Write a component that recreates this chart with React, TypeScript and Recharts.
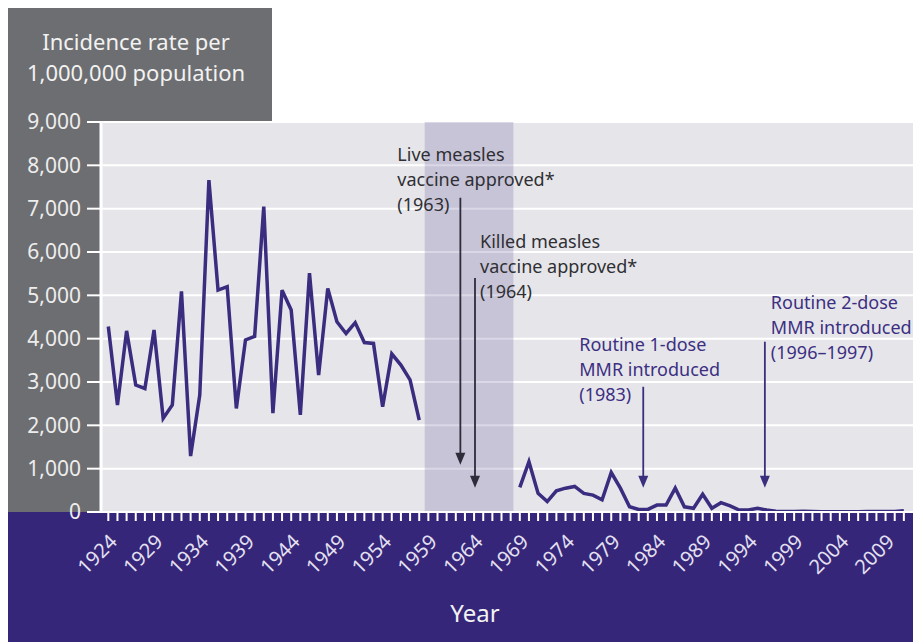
import React from 'react';
import { LineChart, Line, XAxis, YAxis, CartesianGrid, ReferenceArea, ReferenceLine } from 'recharts';

// measles incidence per 1,000,000
const firstStart = 1924;
const firstRates = [
  4280, 2470, 4180, 2930, 2850, 4200, 2160, 2470, 5090, 1290,
  2700, 7660, 5120, 5200, 2390, 3970, 4050, 7050, 2280, 5120,
  4660, 2240, 5510, 3160, 5160, 4390, 4120, 4370, 3910, 3890,
  2430, 3650, 3390, 3050, 2120,
];
const gapYears = [1959, 1960, 1961, 1962, 1963, 1964, 1965, 1966, 1967, 1968];
const secondStart = 1969;
const secondRates = [
  570, 1160, 430, 240, 490, 550, 590, 430, 390, 280,
  910, 550, 120, 60, 60, 160, 160, 550, 120, 85,
  410, 85, 215, 140, 45, 45, 85, 45, 20, 10,
  10, 15, 10, 5, 5, 5, 5, 5, 10, 10,
  10, 10, 30,
];
const yTicks = [0, 1000, 2000, 3000, 4000, 5000, 6000, 7000, 8000, 9000];
const labelYears = [1924, 1929, 1934, 1939, 1944, 1949, 1954, 1959, 1964, 1969, 1974, 1979, 1984, 1989, 1994, 1999, 2004, 2009];
const noReportFrom = 1958.6;
const noReportTo = 1968.3;

const events = [
  { lines: ['Live measles', 'vaccine approved*', '(1963)'], year: 1962.5, from: 7250, to: 1090, dx: -63, dy: -37, dark: true },
  { lines: ['Killed measles', 'vaccine approved*', '(1964)'], year: 1964.1, from: 5400, to: 560, dx: 5, dy: -30, dark: true },
  { lines: ['Routine 1-dose', 'MMR introduced', '(1983)'], year: 1982.5, from: 2890, to: 560, dx: -64, dy: -36, dark: false },
  { lines: ['Routine 2-dose', 'MMR introduced', '(1996\u20131997)'], year: 1995.8, from: 3930, to: 560, dx: 6, dy: -33, dark: false },
];

const data = [
  ...firstRates.map((rate, i) => ({ year: firstStart + i, rate })),
  ...gapYears.map((year) => ({ year, rate: null })),
  ...secondRates.map((rate, i) => ({ year: secondStart + i, rate })),
];
const allTicks: number[] = [];
for (let y = 1924; y <= 2011; y++) allTicks.push(y);

const FONT = '"Noto Sans", sans-serif';
const GREY = '#6d6e71';
const PURPLE = '#35267a';
const LINE = '#3a2c7e';

const YearTick = (props: any) => {
  const { x, y, payload } = props;
  if (!labelYears.includes(payload.value)) return <g />;
  const ax = x + 10;
  const ay = y + 22;
  return (
    <text x={ax} y={ay} transform={`rotate(-45, ${ax}, ${ay})`} textAnchor="end" fill="#e4e0f0" fontSize={20} fontFamily={FONT}>
      {payload.value}
    </text>
  );
};

const arrowShape = (ev: typeof events[number]) => (props: any) => {
  const { x1, y1, x2, y2 } = props;
  const c = ev.dark ? '#2e2c3a' : '#3a2f7c';
  return (
    <g>
      <line x1={x1} y1={y1} x2={x2} y2={y2 - 8} stroke={c} strokeWidth={1.8} />
      <path d={`M${x2 - 5},${y2 - 12} L${x2 + 5},${y2 - 12} L${x2},${y2} Z`} fill={c} />
      {ev.lines.map((t, i) => (
        <text key={i} x={x1 + ev.dx} y={y1 + ev.dy + i * 25} fill={ev.dark ? '#2f2f33' : '#3c2f82'} fontSize={18} fontFamily={FONT}>
          {t}
        </text>
      ))}
    </g>
  );
};

export default function App() {
  return (
    <div style={{ position: 'fixed', left: 0, top: 0, width: 913, height: 642, overflow: 'hidden', background: '#fff' }}>
      <div style={{ position: 'absolute', left: 8, top: 8, width: 264, height: 114, background: GREY }} />
      <div style={{ position: 'absolute', left: 8, top: 8, width: 93, height: 504, background: GREY }} />
      <div style={{ position: 'absolute', left: 8, top: 512, width: 905, height: 130, background: PURPLE }} />
      <div style={{ position: 'absolute', left: 4, top: 26, width: 264, textAlign: 'center', color: '#f2f2f2', fontFamily: FONT, fontSize: 22, lineHeight: '31px' }}>
        Incidence rate per<br />1,000,000 population
      </div>
      <div style={{ position: 'absolute', left: 0, top: 0 }}>
        <LineChart width={913} height={642} data={data} margin={{ top: 122, right: 0, bottom: 0, left: 8 }}>
          <CartesianGrid vertical={false} stroke="#ffffff" strokeWidth={2} fill="#e6e6ea" fillOpacity={1} />
          <ReferenceArea x1={noReportFrom} x2={noReportTo} y1={0} y2={9000} fill="#6a5fa0" fillOpacity={0.25} stroke="none" ifOverflow="hidden" />
          <XAxis
            dataKey="year"
            type="number"
            domain={[1923.2, 2012]}
            ticks={allTicks}
            interval={0}
            height={130}
            tickSize={9}
            tickMargin={0}
            tickLine={{ stroke: '#ffffff', strokeWidth: 2 }}
            axisLine={{ stroke: '#ffffff', strokeWidth: 2 }}
            tick={<YearTick />}
            label={{
              content: (p: any) => (
                <text x={p.viewBox.x + p.viewBox.width / 2 - 32} y={p.viewBox.y + p.viewBox.height - 20} textAnchor="middle" fill="#f2f2f2" fontSize={24} fontFamily={FONT}>
                  Year
                </text>
              ),
            }}
          />
          <YAxis
            domain={[0, 9000]}
            ticks={yTicks}
            width={93}
            tickSize={14}
            tickMargin={6}
            axisLine={{ stroke: '#ffffff', strokeWidth: 3 }}
            tickLine={{ stroke: '#ffffff', strokeWidth: 2 }}
            tick={{ fill: '#ededed', fontSize: 21, fontFamily: FONT }}
            tickFormatter={(v: number) => v.toLocaleString('en-US')}
          />
          {events.map((ev, i) => (
            <ReferenceLine
              key={i}
              segment={[{ x: ev.year, y: ev.from }, { x: ev.year, y: ev.to }]}
              shape={arrowShape(ev)}
              ifOverflow="visible"
            />
          ))}
          <Line type="linear" dataKey="rate" stroke={LINE} strokeWidth={3.5} dot={false} connectNulls={false} isAnimationActive={false} />
        </LineChart>
      </div>
    </div>
  );
}
